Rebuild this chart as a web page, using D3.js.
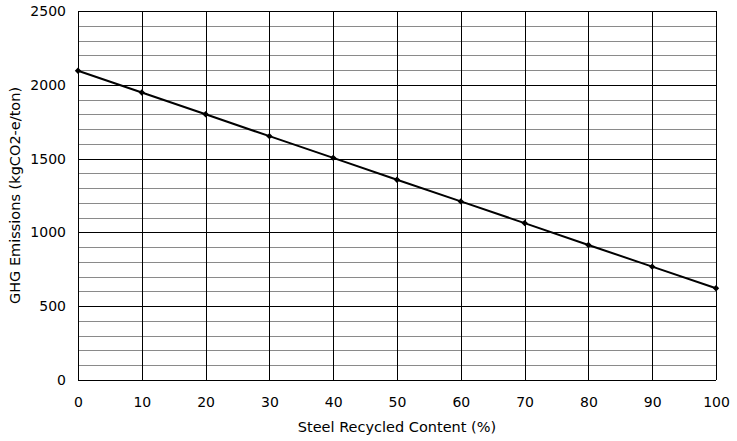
<html>
<head>
<meta charset="utf-8">
<script src="https://d3js.org/d3.v7.min.js"></script>
<style>
  body { margin: 0; background: #fff; }
  text { font-family: "DejaVu Sans", Verdana, sans-serif; }
</style>
</head>
<body>
<div id="chart"></div>
<script>
// data
const recycled = [0, 10, 20, 30, 40, 50, 60, 70, 80, 90, 100];
const emissions = [2095, 1948, 1800, 1652, 1505, 1357, 1210, 1063, 915, 768, 622];
const xTicks = [0, 10, 20, 30, 40, 50, 60, 70, 80, 90, 100];
const yTicks = [0, 500, 1000, 1500, 2000, 2500];

const W = 737, H = 441;
const margin = {top: 11, right: 21, bottom: 61, left: 78};
const width = W - margin.left - margin.right,
      height = H - margin.top - margin.bottom;

const svg = d3.select("#chart").append("svg")
  .attr("width", W).attr("height", H);
const g = svg.append("g")
  .attr("transform", `translate(${margin.left},${margin.top})`);

const x = d3.scaleLinear().domain([0, 100]).range([0, width]);
const y = d3.scaleLinear().domain([0, 2500]).range([height, 0]);

// minor horizontal grid every 100
g.append("g").selectAll("line")
  .data(d3.range(100, 2500, 100).filter(v => v % 500 !== 0))
  .join("line")
    .attr("x1", 0).attr("x2", width)
    .attr("y1", d => Math.round(y(d)) + 0.5).attr("y2", d => Math.round(y(d)) + 0.5)
    .attr("stroke", "#8a8a8a").attr("stroke-width", 1);

// major horizontal grid
g.append("g").selectAll("line")
  .data(yTicks)
  .join("line")
    .attr("x1", 0).attr("x2", width)
    .attr("y1", d => Math.round(y(d)) + 0.5).attr("y2", d => Math.round(y(d)) + 0.5)
    .attr("stroke", "#000").attr("stroke-width", 1);

// vertical grid
g.append("g").selectAll("line")
  .data(xTicks)
  .join("line")
    .attr("x1", d => Math.round(x(d)) + 0.5).attr("x2", d => Math.round(x(d)) + 0.5)
    .attr("y1", 0).attr("y2", height)
    .attr("stroke", "#000").attr("stroke-width", 1);

// axes (labels only)
const xAxis = g.append("g")
  .attr("transform", `translate(0,${height})`)
  .call(d3.axisBottom(x).tickValues(xTicks).tickFormat(d3.format("d")).tickSize(0).tickPadding(17));
xAxis.select(".domain").remove();
xAxis.selectAll("text").attr("font-size", 14).attr("fill", "#000")
  .style("font-family", '"DejaVu Sans", Verdana, sans-serif');

const yAxis = g.append("g")
  .call(d3.axisLeft(y).tickValues(yTicks).tickFormat(d3.format("d")).tickSize(0).tickPadding(12));
yAxis.select(".domain").remove();
yAxis.selectAll("text").attr("font-size", 14).attr("fill", "#000")
  .style("font-family", '"DejaVu Sans", Verdana, sans-serif');

// line
const pts = recycled.map((r, i) => [r, emissions[i]]);
g.append("path")
  .datum(pts)
  .attr("fill", "none")
  .attr("stroke", "#000")
  .attr("stroke-width", 2)
  .attr("d", d3.line().x(d => x(d[0])).y(d => y(d[1])));

// markers (small diamonds)
g.append("g").selectAll("path")
  .data(pts)
  .join("path")
    .attr("transform", d => `translate(${x(d[0])},${y(d[1])})`)
    .attr("d", "M0,-3.2L3.2,0L0,3.2L-3.2,0Z")
    .attr("fill", "#000");

// axis titles
svg.append("text")
  .attr("x", 397).attr("y", 432)
  .attr("text-anchor", "middle").attr("font-size", 14.5)
  .text("Steel Recycled Content (%)");

svg.append("text")
  .attr("transform", `translate(20,${margin.top + height / 2}) rotate(-90)`)
  .attr("text-anchor", "middle").attr("font-size", 14.5)
  .text("GHG Emissions (kgCO2-e/ton)");
</script>
</body>
</html>
